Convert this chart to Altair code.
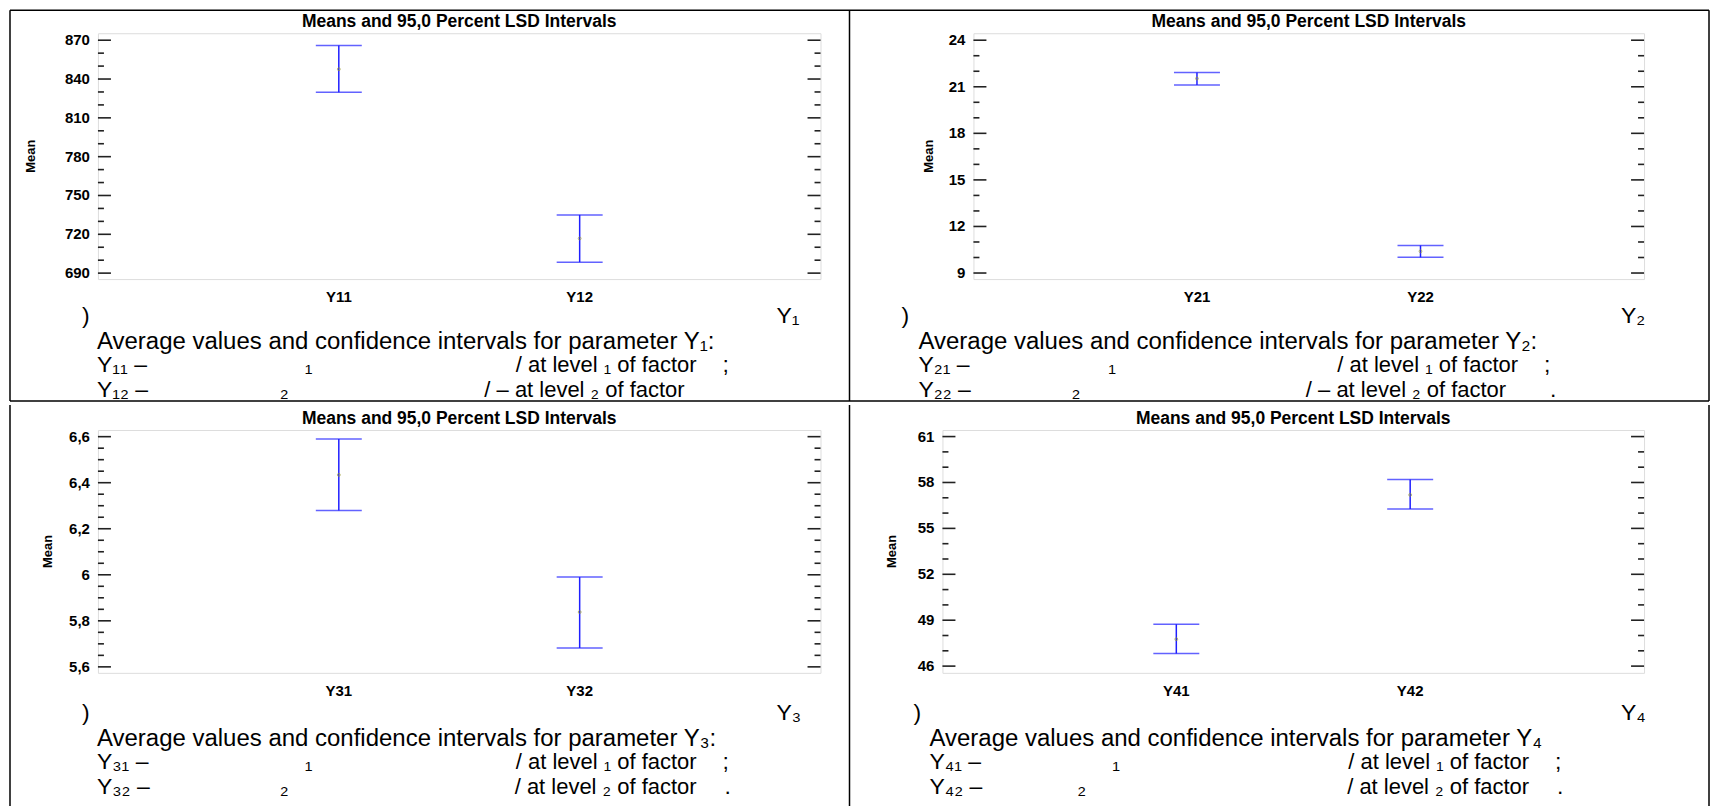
import altair as alt
import pandas as pd

# ---------------- data ----------------
p1_cats = ["Y11", "Y12"]
p1_mean = [847.6, 716.8]
p1_lo = [829.8, 698.5]
p1_hi = [865.9, 735.0]
p1_major = [690, 720, 750, 780, 810, 840, 870]
p1_labels = ["690", "720", "750", "780", "810", "840", "870"]
p1_minor = [700, 710, 730, 740, 760, 770, 790, 800, 820, 830, 850, 860]
p1_domain = [685.4, 875.4]

p2_cats = ["Y21", "Y22"]
p2_mean = [21.53, 10.40]
p2_lo = [21.12, 10.01]
p2_hi = [21.92, 10.78]
p2_major = [9, 12, 15, 18, 21, 24]
p2_labels = ["9", "12", "15", "18", "21", "24"]
p2_minor = [10, 11, 13, 14, 16, 17, 19, 20, 22, 23]
p2_domain = [8.61, 24.45]

p3_cats = ["Y31", "Y32"]
p3_mean = [6.434, 5.838]
p3_lo = [6.279, 5.682]
p3_hi = [6.590, 5.990]
p3_major = [5.6, 5.8, 6.0, 6.2, 6.4, 6.6]
p3_labels = ["5,6", "5,8", "6", "6,2", "6,4", "6,6"]
p3_minor = [5.65, 5.7, 5.75, 5.85, 5.9, 5.95, 6.05, 6.1, 6.15, 6.25, 6.3, 6.35, 6.45, 6.5, 6.55]
p3_domain = [5.574, 6.629]

p4_cats = ["Y41", "Y42"]
p4_mean = [47.76, 57.19]
p4_lo = [46.82, 56.26]
p4_hi = [48.74, 58.19]
p4_major = [46, 49, 52, 55, 58, 61]
p4_labels = ["46", "49", "52", "55", "58", "61"]
p4_minor = [47, 48, 50, 51, 53, 54, 56, 57, 59, 60]
p4_domain = [45.56, 61.43]

title_text = "Means and 95,0 Percent LSD Intervals"
y_title = "Mean"

S1 = "\u2081"
S2 = "\u2082"
S3 = "\u2083"
S4 = "\u2084"
DASH = " \u2013"

FONT = "Liberation Sans"
BLUE = "#1f1fff"
FS = 23


def one():
    return alt.Chart(pd.DataFrame({"k": [0]}))


def txt(s, x, y, size=FS, weight="normal", align="left", baseline="alphabetic", angle=0):
    kw = dict(text=s, font=FONT, fontSize=size, fontWeight=weight, align=align,
              baseline=baseline, color="black")
    if angle:
        kw["angle"] = angle
    return one().mark_text(**kw).encode(x=alt.value(x), y=alt.value(y))


def vline(x, y1, y2):
    return one().mark_rule(color="black", strokeWidth=1.5).encode(
        x=alt.value(x), y=alt.value(y1), y2=alt.value(y2))


def hline(y, x1, x2):
    return one().mark_rule(color="black", strokeWidth=1.5).encode(
        y=alt.value(y), x=alt.value(x1), x2=alt.value(x2))


def panel(cats, means, lo, hi, major, labels, minor, domain, w, h, mean_x, texts, extra=None):
    df = pd.DataFrame({"cat": cats, "mean": means, "lo": lo, "hi": hi})
    sy = alt.Scale(domain=domain, nice=False, zero=False)
    sx = alt.Scale(type="point", padding=1.1)
    X = alt.X("cat:N", sort=cats, scale=sx, axis=None)
    base = alt.Chart(df)
    bars = base.mark_rule(color=BLUE, strokeWidth=1.5).encode(
        x=X, y=alt.Y("lo:Q", scale=sy, axis=None), y2="hi:Q")
    cap_lo = base.mark_tick(color=BLUE, size=46, thickness=1.5, orient="horizontal").encode(
        x=X, y=alt.Y("lo:Q", scale=sy, axis=None))
    cap_hi = base.mark_tick(color=BLUE, size=46, thickness=1.5, orient="horizontal").encode(
        x=X, y=alt.Y("hi:Q", scale=sy, axis=None))
    pts = base.mark_point(shape="circle", size=8, color="#9a9a2a", filled=False, strokeWidth=1).encode(
        x=X, y=alt.Y("mean:Q", scale=sy, axis=None))
    xlab = base.mark_text(font=FONT, fontSize=15, fontWeight="bold", baseline="top",
                          align="center", color="black").encode(
        x=X, y=alt.value(h + 11), text="cat:N")

    dmaj = alt.Chart(pd.DataFrame({"v": major, "lab": labels}))
    dmin = alt.Chart(pd.DataFrame({"v": minor}))
    yv = alt.Y("v:Q", scale=sy, axis=None)
    ylab = dmaj.mark_text(font=FONT, fontSize=15, fontWeight="bold", baseline="middle",
                          align="right", color="black").encode(
        y=yv, x=alt.value(-8), text="lab:N")
    tk = dict(color="#222", strokeWidth=1.6)
    ticks = [
        dmaj.mark_rule(**tk).encode(y=yv, x=alt.value(0), x2=alt.value(13)),
        dmaj.mark_rule(**tk).encode(y=yv, x=alt.value(w - 13), x2=alt.value(w)),
        dmin.mark_rule(**tk).encode(y=yv, x=alt.value(0), x2=alt.value(6)),
        dmin.mark_rule(**tk).encode(y=yv, x=alt.value(w - 6), x2=alt.value(w)),
    ]
    layers = [bars, cap_lo, cap_hi, pts, xlab, ylab] + ticks
    layers.append(txt(title_text, w / 2, -6, size=17.5, weight="bold", align="center"))
    layers.append(txt(y_title, mean_x, h / 2, size=13, weight="bold", align="center",
                      baseline="middle", angle=270))
    for item in texts:
        s, x, y = item[0], item[1], item[2]
        align = item[3] if len(item) > 3 else "left"
        size = item[4] if len(item) > 4 else FS
        layers.append(txt(s, x, y, align=align, size=size))
    if extra:
        layers += extra
    return alt.layer(*layers).properties(width=w, height=h)


W1, W2, W3, W4 = 723, 671, 723, 702
H1, H3 = 246, 243

# cell borders (coordinates relative to the left panel's plot area of each row)
borders_top = [
    hline(-23, -88, 1612),
    vline(-88, -23, 368),
    vline(752, -23, 368),
    vline(1612, -23, 368),
    hline(368, -88, 1612),
]
borders_bottom = [
    vline(-88, -25, 380),
    vline(752, -25, 380),
    vline(1612, -25, 380),
]

AVG = "Average values and confidence intervals for parameter Y"
AS = 24  # size of the "Average values ..." line
FR = 22  # size of the "/ at level ... of factor" fragments

# text lines of each cell: (text, x, y, align[, size]) relative to the panel's plot area
t1 = [
    (")", -16, 290), ("Y" + S1, 679, 290),
    (AVG + S1 + ":", -1, 316, "left", AS),
    ("Y" + S1 + S1 + DASH, -1, 339), (S1, 207, 339),
    ("/ at level  " + S1 + " of factor", 599, 339, "right", FR), (";", 625, 339),
    ("Y" + S1 + S2 + DASH, -1, 364), (S2, 182, 364),
    ("/ \u2013 at level  " + S2 + " of factor", 587, 364, "right", FR),
]
t2 = [
    (")", -72, 290), ("Y" + S2, 648, 290),
    (AVG + S2 + ":", -55, 316, "left", AS),
    ("Y" + S2 + S1 + DASH, -55, 339), (S1, 135, 339),
    ("/ at level  " + S1 + " of factor", 545, 339, "right", FR), (";", 571, 339),
    ("Y" + S2 + S2 + DASH, -55, 364), (S2, 98, 364),
    ("/ \u2013 at level  " + S2 + " of factor", 533, 364, "right", FR), (".", 577, 364),
]
t3 = [
    (")", -16, 290), ("Y" + S3, 679, 290),
    (AVG + S3 + ":", -1, 316, "left", AS),
    ("Y" + S3 + S1 + DASH, -1, 339), (S1, 207, 339),
    ("/ at level  " + S1 + " of factor", 599, 339, "right", FR), (";", 625, 339),
    ("Y" + S3 + S2 + DASH, -1, 364), (S2, 182, 364),
    ("/ at level  " + S2 + " of factor", 599, 364, "right", FR), (".", 627, 364),
]
t4 = [
    (")", -29, 290), ("Y" + S4, 679, 290),
    (AVG + S4, -13, 316, "left", AS),
    ("Y" + S4 + S1 + DASH, -13, 339), (S1, 170, 339),
    ("/ at level  " + S1 + " of factor", 587, 339, "right", FR), (";", 613, 339),
    ("Y" + S4 + S2 + DASH, -13, 364), (S2, 135, 364),
    ("/ at level  " + S2 + " of factor", 587, 364, "right", FR), (".", 615, 364),
]

c1 = panel(p1_cats, p1_mean, p1_lo, p1_hi, p1_major, p1_labels, p1_minor, p1_domain, W1, H1, -67, t1, borders_top)
c2 = panel(p2_cats, p2_mean, p2_lo, p2_hi, p2_major, p2_labels, p2_minor, p2_domain, W2, H1, -44, t2)
c3 = panel(p3_cats, p3_mean, p3_lo, p3_hi, p3_major, p3_labels, p3_minor, p3_domain, W3, H3, -50, t3, borders_bottom)
c4 = panel(p4_cats, p4_mean, p4_lo, p4_hi, p4_major, p4_labels, p4_minor, p4_domain, W4, H3, -50, t4)

row1 = alt.hconcat(c1, c2, spacing=153, bounds="flush")
row2 = alt.hconcat(c3, c4, spacing=122, bounds="flush")
chart = alt.vconcat(row1, row2, spacing=0).properties(padding=0).configure_view(
    stroke="#2a2a2a", strokeWidth=2).configure(background="white")

chart.save("out.html", embed_options={"renderer": "svg", "actions": False})
